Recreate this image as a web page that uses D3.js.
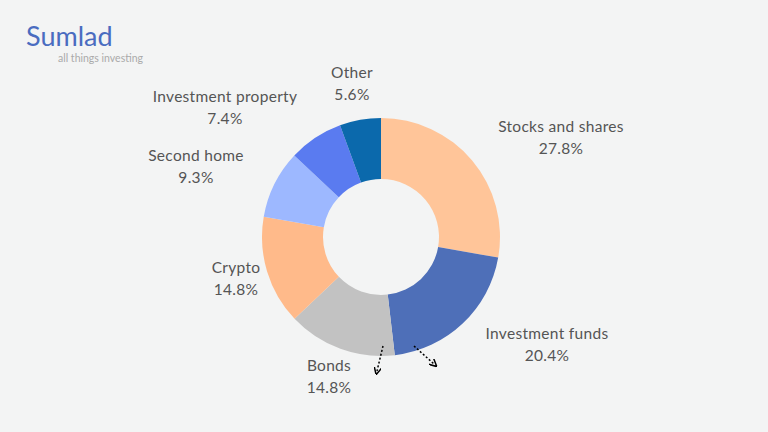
<!DOCTYPE html>
<html><head><meta charset="utf-8">
<script src="https://cdn.jsdelivr.net/npm/d3@7"></script>
<style>body{margin:0;background:#f3f4f4;font-family:Lato,'Open Sans',sans-serif}</style>
</head><body><div id="viz_container"></div>
<script>
// Data
const categories = ["Stocks and shares","Investment funds","Bonds","Crypto","Second home","Investment property","Other"];
const shares = [27.8, 20.4, 14.8, 14.8, 9.3, 7.4, 5.6];
const colors = ["#FFC599","#4E6FB8","#C2C2C2","#FFBA8A","#9DB8FF","#5A7BF0","#0B69AC"];
// label anchor points (center of two-line label)
const labelPos = [[561,127],[547,334],[329,366],[236,268],[196,156],[225,97],[352,73]];

const W = 768, H = 432, cx = 381, cy = 237;
const svg = d3.select("#viz_container").append("svg")
  .attr("width", W).attr("height", H);
svg.append("rect").attr("width", W).attr("height", H).attr("fill", "#f3f4f4");

// title
svg.append("text").attr("x", 26).attr("y", 46).attr("fill", "#4a6cc0")
  .style("font-size", "27px").text("Sumlad");
svg.append("text").attr("x", 58).attr("y", 62).attr("fill", "#aaa")
  .style("font-size", "10.5px").text("all things investing");

const pie = d3.pie().sort(null).value(d => d)(shares);
const arc = d3.arc().innerRadius(58).outerRadius(119);

const g = svg.append("g").attr("transform", `translate(${cx},${cy})`);
g.selectAll("path").data(pie).join("path")
  .attr("d", arc).attr("fill", (d, i) => colors[i]);

// labels
const lab = svg.append("g").attr("fill", "#555").style("font-size", "15.5px")
  .style("letter-spacing", "0.3px").attr("text-anchor", "middle");
categories.forEach((c, i) => {
  lab.append("text").attr("x", labelPos[i][0]).attr("y", labelPos[i][1] + 5).text(c);
  lab.append("text").attr("x", labelPos[i][0]).attr("y", labelPos[i][1] + 27).text(shares[i].toFixed(1) + "%");
});

// dotted arrows
svg.append("defs").append("marker").attr("id", "arr").attr("viewBox", "0 0 10 10")
  .attr("refX", 5).attr("refY", 5).attr("markerWidth", 5).attr("markerHeight", 5)
  .attr("orient", "auto").append("path").attr("d", "M0,0L10,5L0,10").attr("fill", "none")
  .attr("stroke", "#000").attr("stroke-width", 2);
[[383,346,377,371],[414,346,434,364]].forEach(a => {
  svg.append("line").attr("x1", a[0]).attr("y1", a[1]).attr("x2", a[2]).attr("y2", a[3])
    .attr("stroke", "#000").attr("stroke-width", 1.5).attr("stroke-dasharray", "2,2")
    .attr("marker-end", "url(#arr)");
});
</script></body></html>
